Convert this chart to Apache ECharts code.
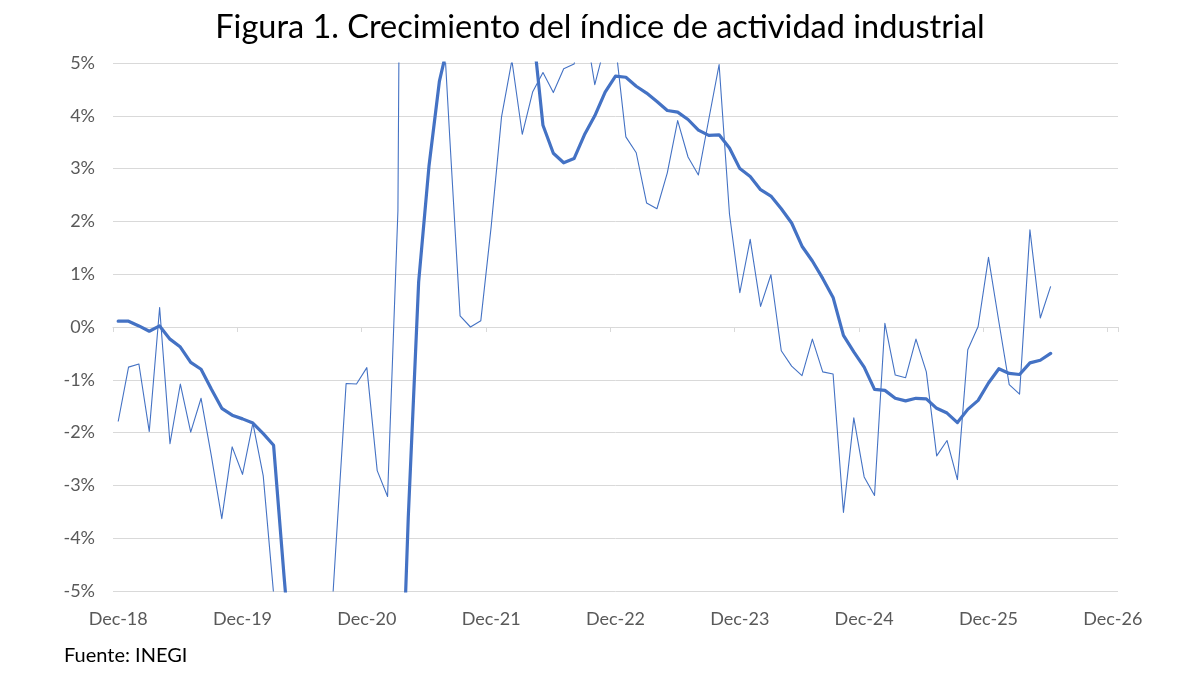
<!DOCTYPE html>
<html>
<head>
<meta charset="utf-8">
<script src="https://cdn.jsdelivr.net/npm/echarts@6/dist/echarts.min.js"></script>
<style>
  html, body { margin: 0; padding: 0; background: #ffffff; }
  #chart { width: 1200px; height: 675px; }
</style>
</head>
<body>
<div id="chart"></div>
<script>
// Month categories, Dec-18 .. Dec-26
const categories = [
  'Dec-18',
  'Jan-19','Feb-19','Mar-19','Apr-19','May-19','Jun-19','Jul-19','Aug-19','Sep-19','Oct-19','Nov-19','Dec-19',
  'Jan-20','Feb-20','Mar-20','Apr-20','May-20','Jun-20','Jul-20','Aug-20','Sep-20','Oct-20','Nov-20','Dec-20',
  'Jan-21','Feb-21','Mar-21','Apr-21','May-21','Jun-21','Jul-21','Aug-21','Sep-21','Oct-21','Nov-21','Dec-21',
  'Jan-22','Feb-22','Mar-22','Apr-22','May-22','Jun-22','Jul-22','Aug-22','Sep-22','Oct-22','Nov-22','Dec-22',
  'Jan-23','Feb-23','Mar-23','Apr-23','May-23','Jun-23','Jul-23','Aug-23','Sep-23','Oct-23','Nov-23','Dec-23',
  'Jan-24','Feb-24','Mar-24','Apr-24','May-24','Jun-24','Jul-24','Aug-24','Sep-24','Oct-24','Nov-24','Dec-24',
  'Jan-25','Feb-25','Mar-25','Apr-25','May-25','Jun-25','Jul-25','Aug-25','Sep-25','Oct-25','Nov-25','Dec-25',
  'Jan-26','Feb-26','Mar-26','Apr-26','May-26','Jun-26','Jul-26','Aug-26','Sep-26','Oct-26','Nov-26','Dec-26'
];

// Thin line: monthly annual growth (%), Dec-18 .. Jun-26 (values beyond ±5% are clipped in the chart)
const crecimientoMensual = [
  -1.79,
  -0.76, -0.70, -1.98, 0.37, -2.21, -1.08, -1.99, -1.35, -2.45, -3.63, -2.27, -2.79,
  -1.82, -2.82, -5.05, -29.6, -29.0, -17.0, -11.0, -7.4, -4.2, -1.07, -1.08, -0.77,
  -2.72, -3.21, 2.2, 33.0, 32.0, 13.5, 7.1, 3.6, 0.21, 0.0, 0.12, 1.9,
  3.98, 5.05, 3.65, 4.45, 4.82, 4.44, 4.89, 4.98, 5.8, 4.59, 5.35, 5.35,
  3.6, 3.3, 2.35, 2.24, 2.92, 3.91, 3.22, 2.88, 3.93, 4.97, 2.14, 0.65,
  1.66, 0.39, 0.99, -0.45, -0.74, -0.92, -0.23, -0.85, -0.89, -3.51, -1.72, -2.84,
  -3.19, 0.07, -0.91, -0.96, -0.23, -0.85, -2.44, -2.15, -2.89, -0.43, 0.01, 1.32,
  0.1, -1.09, -1.27, 1.84, 0.17, 0.77
];

// Thick line: smoothed (12-month) growth (%), Dec-18 .. Jun-26
const crecimientoSuavizado = [
  0.11,
  0.11, 0.02, -0.08, 0.02, -0.23, -0.38, -0.67, -0.80, -1.18, -1.54, -1.67, -1.74,
  -1.82, -2.02, -2.24, -4.7, -7.0, -8.3, -9.1, -9.6, -9.8, -9.8, -9.8, -9.8,
  -9.9, -10.0, -9.2, -3.6, 0.85, 3.05, 4.65, 5.5, 5.9, 6.1, 6.2, 6.3,
  6.5, 6.7, 7.4, 5.7, 3.82, 3.29, 3.11, 3.19, 3.64, 4.0, 4.45, 4.75,
  4.73, 4.56, 4.43, 4.27, 4.10, 4.07, 3.93, 3.73, 3.63, 3.64, 3.39, 3.0,
  2.85, 2.60, 2.48, 2.24, 1.97, 1.53, 1.25, 0.92, 0.56, -0.16, -0.47, -0.76,
  -1.18, -1.20, -1.35, -1.40, -1.35, -1.36, -1.54, -1.63, -1.81, -1.56, -1.39, -1.06,
  -0.79, -0.88, -0.90, -0.68, -0.63, -0.50
];

const yTicks = { min: -5, max: 5, step: 1 };

const FONT = 'Lato';
const LINE_COLOR = '#4472C4';
const GRID_COLOR = '#D9D9D9';
const LABEL_COLOR = '#595959';

const isYearTick = (i) => i % 12 === 0;

const chart = echarts.init(document.getElementById('chart'), null, { renderer: 'canvas' });
chart.setOption({
  animation: false,
  backgroundColor: '#ffffff',
  title: {
    text: 'Figura 1. Crecimiento del índice de actividad industrial',
    left: 'center',
    top: 6,
    textStyle: { fontFamily: FONT, fontSize: 32.5, fontWeight: 'normal', color: '#000000' }
  },
  graphic: [{
    type: 'text',
    left: 64,
    top: 646,
    style: { text: 'Fuente: INEGI', font: '20px ' + FONT, fill: '#000000' }
  }],
  grid: { left: 113, right: 82, top: 63, bottom: 84, containLabel: false },
  xAxis: [{
    type: 'category',
    data: categories,
    boundaryGap: true,
    axisLine: { show: false, onZero: false },
    axisTick: { show: false },
    splitLine: { show: false },
    axisLabel: {
      interval: (i) => isYearTick(i),
      margin: 19,
      fontFamily: FONT,
      fontSize: 18,
      color: LABEL_COLOR
    }
  }, {
    type: 'category',
    data: categories,
    boundaryGap: true,
    position: 'bottom',
    axisLine: { show: true, onZero: true, onZeroAxisIndex: 0, lineStyle: { color: GRID_COLOR, width: 1 } },
    axisTick: { show: true, interval: (i) => isYearTick(i), length: 5, lineStyle: { color: GRID_COLOR } },
    axisLabel: { show: false },
    splitLine: { show: false }
  }],
  yAxis: {
    type: 'value',
    min: yTicks.min,
    max: yTicks.max,
    interval: yTicks.step,
    axisLine: { show: false },
    axisTick: { show: false },
    splitLine: { lineStyle: { color: GRID_COLOR, width: 1 } },
    axisLabel: {
      formatter: '{value}%',
      margin: 18,
      fontFamily: FONT,
      fontSize: 18,
      color: LABEL_COLOR
    }
  },
  series: [{
    name: 'Mensual',
    type: 'line',
    data: crecimientoMensual,
    xAxisIndex: 0,
    symbol: 'none',
    clip: true,
    lineStyle: { color: LINE_COLOR, width: 1.1, join: 'round' },
    z: 2
  }, {
    name: 'Suavizado',
    type: 'line',
    data: crecimientoSuavizado,
    xAxisIndex: 0,
    symbol: 'none',
    clip: true,
    lineStyle: { color: LINE_COLOR, width: 3.2, join: 'round', cap: 'round' },
    z: 3
  }]
});
</script>
</body>
</html>
